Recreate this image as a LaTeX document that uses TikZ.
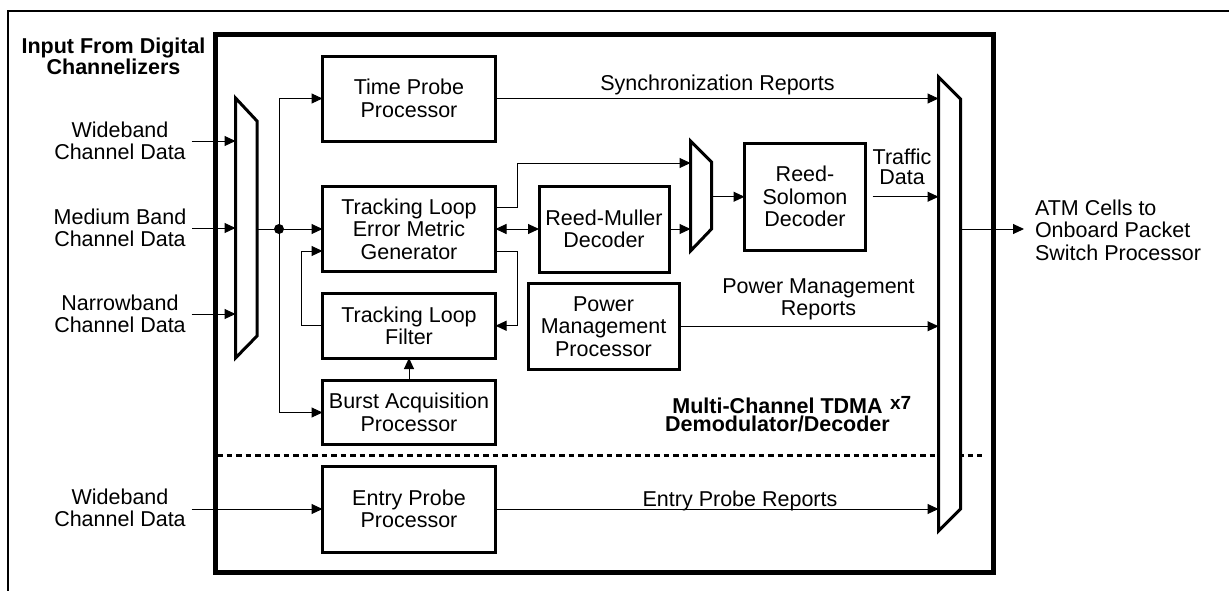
\documentclass[tikz,border=0pt]{standalone}
\usepackage{fontspec}
\setmainfont{Liberation Sans}
\usetikzlibrary{arrows.meta}
\begin{document}
\begin{tikzpicture}[x=1pt,y=-1pt,
  every node/.style={font=\fontsize{21.5}{22.5}\selectfont, inner sep=0pt, outer sep=0pt},
  blk/.style={draw, line width=3pt, fill=white, align=center},
  lbl/.style={align=center},
  ttl/.style={font=\bfseries\fontsize{21.5}{18}\selectfont, align=center},
  wire/.style={line width=1pt},
  arr/.style={wire, -{Triangle[length=11pt,width=10pt]}},
  darr/.style={wire, {Triangle[length=11pt,width=10pt]}-{Triangle[length=11pt,width=10pt]}},
  muxs/.style={line width=3pt, fill=white, line join=miter},
  dot/.style={circle, fill=black, minimum size=10pt}
]
\useasboundingbox (0,0) rectangle (1229,590);

% outer frame (only top and left edges visible)
\draw[line width=2pt] (8,600) -- (8,11) -- (1240,11);

% inner frame
\draw[line width=5pt] (215,34.5) rectangle (993.5,572);

% dashed divider
\draw[line width=3pt, dash pattern=on 5.5pt off 4pt] (217,455.5) -- (982,455.5);

% multiplexers
\draw[muxs] (235.5,98) -- (257,121) -- (257,336) -- (235.5,358) -- cycle;
\draw[muxs] (690.5,141) -- (711.5,162) -- (711.5,229) -- (690.5,251) -- cycle;
\draw[muxs] (938.5,77) -- (960.5,99) -- (960.5,509) -- (938.5,531) -- cycle;
\coordinate (lmx) at (235.5,0);
\coordinate (rmx) at (938.5,0);
\coordinate (lmo) at (257,229);
\coordinate (smi1) at (690.5,163);
\coordinate (smi2) at (690.5,229);
\coordinate (smo) at (711.5,196.75);
\coordinate (rmo) at (960.5,229);

% blocks
\node[blk, minimum width=173pt, minimum height=85pt] (tp) at (409,98.5) {Time Probe\\Processor};
\node[blk, minimum width=173pt, minimum height=85.5pt] (tlemg) at (409,229) {Tracking Loop\\Error Metric\\Generator};
\node[blk, minimum width=173pt, minimum height=64.5pt] (tlf) at (409,325.75) {Tracking Loop\\Filter};
\node[blk, minimum width=173pt, minimum height=64pt] (burst) at (409,412.5) {Burst Acquisition\\Processor};
\node[blk, minimum width=173pt, minimum height=86pt] (entry) at (409,509) {Entry Probe\\Processor};
\node[blk, minimum width=130pt, minimum height=86pt] (rm) at (604,229) {Reed-Muller\\Decoder};
\node[blk, minimum width=121pt, minimum height=107.5pt] (rs) at (805,196.75) {Reed-\\Solomon\\Decoder};
\node[blk, minimum width=151pt, minimum height=86.5pt] (pmp) at (603.5,326.25) {Power\\Management\\Processor};

% outside labels
\node[ttl] (title) at (113.5,56.2) {Input From Digital\\Channelizers};
\node[lbl] (in1) at (120,141) {Wideband\\Channel Data};
\node[lbl] (in2) at (120,228) {Medium Band\\Channel Data};
\node[lbl] (in3) at (120,314) {Narrowband\\Channel Data};
\node[lbl] (in4) at (120,508) {Wideband\\Channel Data};
\node[align=left, anchor=west] (atm) at (1035,230) {ATM Cells to\\Onboard Packet\\Switch Processor};

% inside labels
\node[anchor=base] (sync) at (717.5,90) {Synchronization Reports};
\node[lbl] (pmr) at (818.5,299.5) {Power Management\\Reports};
\node[lbl, font=\fontsize{21.5}{20}\selectfont] (traffic) at (902,167.3) {Traffic\\Data};
\node[anchor=base] (epr) at (740,506) {Entry Probe Reports};
\node[ttl] (mctd) at (777.5,415) {Multi-Channel TDMA\\Demodulator/Decoder};
\node[anchor=base west, font=\bfseries\fontsize{19}{19}\selectfont] (x7) at (890,409) {x7};

% inputs
\draw[arr] ([xshift=6pt]in1.east) -- (in1.east -| lmx);
\draw[arr] ([xshift=6pt]in2.east) -- (in2.east -| lmx);
\draw[arr] ([xshift=6pt]in3.east) -- (in3.east -| lmx);
\draw[arr] ([xshift=6pt]in4.east |- entry.west) -- (entry.west);

% distribution from left mux
\node[dot] (jn) at (279,229) {};
\draw[arr] (lmo) -- (tlemg.west);
\draw[arr] (jn.center) |- (tp.west);
\draw[arr] (jn.center) |- (burst.west);

% tracking loop
\draw[arr] ([yshift=22pt]tlemg.east) -- ++(21.5,0) |- (smi1);
\draw[arr] ([yshift=-22pt]tlemg.east) -- ++(21.5,0) |- (tlf.east);
\draw[arr] (tlf.west) -- ++(-21.5,0) |- ([yshift=-22pt]tlemg.west);
\draw[darr] (tlemg.east) -- (rm.west);
\draw[arr] (burst.north) -- (tlf.south);

% decoders
\draw[arr] (rm.east) -- (smi2);
\draw[arr] (smo) -- (rs.west);

% to right mux
\draw[arr] (tp.east) -- (tp.east -| rmx);
\draw[arr] ([xshift=7pt]rs.east) -- (rs.east -| rmx);
\draw[arr] (pmp.east) -- (pmp.east -| rmx);
\draw[arr] (entry.east) -- (entry.east -| rmx);

% output
\draw[arr, shorten >=11pt] (rmo) -- (atm.west |- rmo);
\end{tikzpicture}
\end{document}
